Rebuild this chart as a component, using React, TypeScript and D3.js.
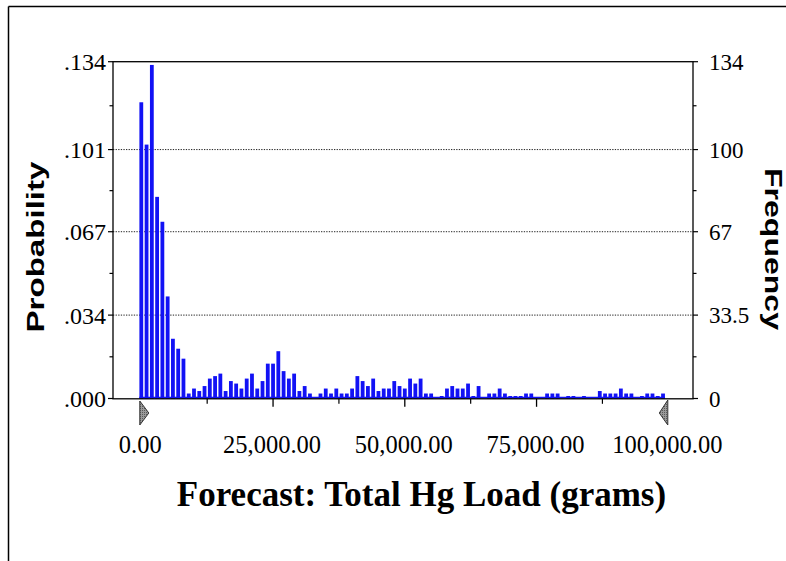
import React from 'react';
import * as d3 from 'd3';

// bins of 1,000 grams, left edge of each bin
const binStarts = d3.range(0, 100000, 1000);

// frequency of each bin (1,000 trials)
const frequencies = [
  119, 102, 134, 81, 71, 41, 24, 20, 16, 2,
  4, 3, 5, 8, 9, 10, 3, 7, 6, 4,
  8, 10, 4, 7, 14, 14, 19, 11, 8, 10,
  3, 5, 2, 0, 2, 4, 2, 4, 2, 2,
  4, 9, 7, 5, 8, 3, 4, 4, 7, 5,
  4, 8, 6, 8, 2, 2, 0, 1, 4, 5,
  4, 4, 6, 1, 5, 0, 2, 2, 4, 2,
  1, 1, 1, 2, 2, 0, 0, 2, 2, 2,
  0, 1, 1, 0, 1, 0, 0, 3, 2, 2,
  2, 4, 2, 2, 0, 1, 2, 2, 1, 2,
];

const xTicks = [0, 25000, 50000, 75000, 100000];
const xMinorTicks = [12500, 37500, 62500, 87500];
const freqTicks = [0, 33.5, 67, 100, 135.3];
const freqLabels = ['0', '33.5', '67', '100', '134'];
const probLabels = ['.000', '.034', '.067', '.101', '.134'];
const minorTicks = [16.75, 50.25, 83.5, 117.6];
const gridTicks = [33.5, 67, 100];

const W = 786;
const H = 561;
const plot = { left: 113, right: 693, top: 61.7, bottom: 398.8 };

export default function App() {
  const x = d3.scaleLinear().domain([0, 100000]).range([141.3, 668.3]);
  const y = d3.scaleLinear().domain([0, 135.3]).range([398.5, plot.top]);
  const barW = 3.8;
  const fmt = d3.format(',.2f');

  const leftTri = `M${x(0) - 1.5},401 L${x(0) + 7.5},413 L${x(0) - 1.5},425 Z`;
  const rightTri = `M${x(100000) - 0.5},400 L${x(100000) - 9},413 L${x(100000) - 0.5},425 Z`;

  return (
    <svg width={W} height={H} style={{ position: 'absolute', left: 0, top: 0, background: '#fff' }}>
      <defs>
        <pattern id="grab" width="2" height="2" patternUnits="userSpaceOnUse">
          <rect width="2" height="2" fill="#9a9a9a" />
          <rect width="1" height="1" fill="#5a5a5a" />
        </pattern>
      </defs>

      {/* outer frame */}
      <line x1={8.5} x2={W} y1={6.5} y2={6.5} stroke="#000" strokeWidth={1.5} />
      <line x1={8.5} x2={8.5} y1={6.5} y2={H} stroke="#000" strokeWidth={1.5} />

      {/* gridlines */}
      {gridTicks.map(t => (
        <line key={t} x1={plot.left} x2={plot.right} y1={y(t)} y2={y(t)}
          stroke="#222" strokeWidth={1} strokeDasharray="1.3,1.3" />
      ))}

      {/* bars */}
      {frequencies.map((f, i) => f > 0 && (
        <rect key={i} x={x(binStarts[i]) - barW / 2} y={y(f)} width={barW}
          height={y(0) - y(f)} fill="#1212f5" />
      ))}
      <line x1={x(0) - 2} x2={x(99000) + 2} y1={397.6} y2={397.6} stroke="#1212f5" strokeWidth={1.6} />

      {/* plot frame */}
      <rect x={plot.left} y={plot.top} width={plot.right - plot.left} height={plot.bottom - plot.top}
        fill="none" stroke="#000" strokeWidth={1.3} />

      {/* left and right axes */}
      {freqTicks.map((t, i) => (
        <g key={t}>
          <line x1={plot.left - 5} x2={plot.left} y1={y(t)} y2={y(t)} stroke="#000" strokeWidth={1.2} />
          <text x={106} y={y(t)} dy="0.35em" textAnchor="end"
            fontFamily="'Liberation Serif', serif" fontSize={24}>{probLabels[i]}</text>
          <line x1={plot.right} x2={plot.right + 5} y1={y(t)} y2={y(t)} stroke="#000" strokeWidth={1.2} />
          <text x={709} y={y(t)} dy="0.35em" textAnchor="start"
            fontFamily="'Liberation Serif', serif" fontSize={23}>{freqLabels[i]}</text>
        </g>
      ))}
      {minorTicks.map(t => (
        <g key={t}>
          <line x1={plot.left - 3.5} x2={plot.left} y1={y(t)} y2={y(t)} stroke="#000" strokeWidth={1.2} />
          <line x1={plot.right} x2={plot.right + 3.5} y1={y(t)} y2={y(t)} stroke="#000" strokeWidth={1.2} />
        </g>
      ))}

      {/* bottom axis */}
      {xTicks.map(t => (
        <g key={t}>
          {t > 0 && t < 100000 && (
            <line x1={x(t)} x2={x(t)} y1={plot.bottom} y2={plot.bottom + 8} stroke="#000" strokeWidth={1.3} />
          )}
          <text x={x(t) - 1} y={453} textAnchor="middle"
            fontFamily="'Liberation Serif', serif" fontSize={24.5}>{fmt(t)}</text>
        </g>
      ))}
      {xMinorTicks.map(t => (
        <line key={t} x1={x(t)} x2={x(t)} y1={plot.bottom} y2={plot.bottom + 5} stroke="#000" strokeWidth={1.2} />
      ))}

      {/* certainty grabbers */}
      <path d={leftTri} fill="url(#grab)" stroke="#333" strokeWidth={1} />
      <path d={rightTri} fill="url(#grab)" stroke="#333" strokeWidth={1} />

      {/* axis titles */}
      <text transform="translate(44,247) rotate(-90)" textAnchor="middle"
        fontFamily="'Liberation Sans', Arial, sans-serif" fontWeight="bold" fontSize={24}
        textLength={171} lengthAdjust="spacingAndGlyphs">Probability</text>
      <text transform="translate(765,249) rotate(90)" textAnchor="middle"
        fontFamily="'Liberation Sans', Arial, sans-serif" fontWeight="bold" fontSize={24}
        textLength={162} lengthAdjust="spacingAndGlyphs">Frequency</text>

      <text x={421.5} y={506} textAnchor="middle"
        fontFamily="'Liberation Serif', serif" fontWeight="bold" fontSize={35}>
        Forecast: Total Hg Load (grams)
      </text>
    </svg>
  );
}
